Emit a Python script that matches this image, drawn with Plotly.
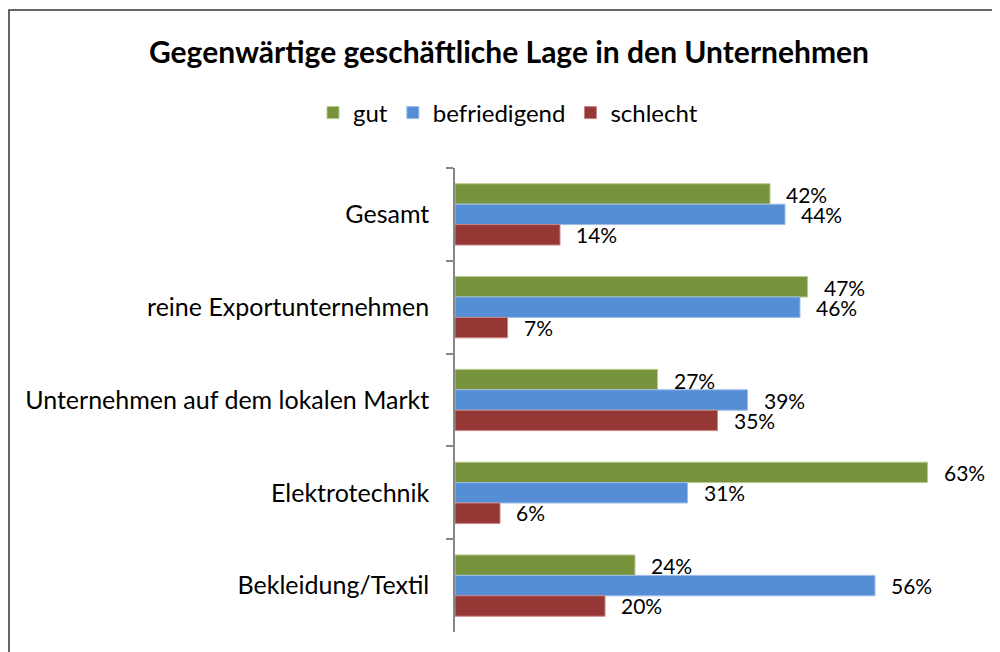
import plotly.graph_objects as go

categories = ["Gesamt", "reine Exportunternehmen", "Unternehmen auf dem lokalen Markt",
              "Elektrotechnik", "Bekleidung/Textil"]
gut = [42, 47, 27, 63, 24]
befriedigend = [44, 46, 39, 31, 56]
schlecht = [14, 7, 35, 6, 20]
series_names = ["gut", "befriedigend", "schlecht"]
colors = ["#77933C", "#558ED5", "#953735"]
borders = ["#B7CB8C", "#9DBDE8", "#C98584"]

FONT = "Lato"
W, H = 1000, 652
L, R, T, B = 447, 28, 160, 28
PW, PH = W - L - R, H - T - B

fig = go.Figure()
series = [gut, befriedigend, schlecht]
for name, vals, col, bcol in zip(series_names, series, colors, borders):
    fig.add_trace(go.Bar(
        y=categories, x=vals, name=name, orientation="h",
        marker=dict(color=col, line=dict(color=bcol, width=1)),
        hoverinfo="skip",
    ))

# value labels, positioned via data coordinates
shifts = [20, 0, -20]
for vals, ys in zip(series, shifts):
    for cat, v in zip(categories, vals):
        fig.add_annotation(x=v, y=cat, text=f"{v}%", showarrow=False,
                           xanchor="left", yanchor="middle", xshift=14, yshift=ys,
                           font=dict(family=FONT, size=21, color="#000"))

xl = (1 - L) / PW
xr = (W + 50 - L) / PW
yt = 1 + (T - 2) / PH
yb = -(B + 40) / PH
fig.update_layout(
    width=W, height=H,
    margin=dict(l=L, r=R, t=T, b=B),
    paper_bgcolor="white", plot_bgcolor="white",
    barmode="group", bargap=0.34, bargroupgap=0,
    font=dict(family=FONT, color="#000"),
    title=dict(text="<b>Gegenwärtige geschäftliche Lage in den Unternehmen</b>",
               x=501 / W, xref="container", xanchor="center",
               y=1 - 44 / H, yref="container", yanchor="middle",
               font=dict(family=FONT, size=30, color="#000")),
    legend=dict(orientation="h", x=(500 - L) / PW, xanchor="center", y=1 + (T - 105) / PH,
                yanchor="middle", font=dict(family=FONT, size=24), traceorder="normal",
                itemwidth=30),
    xaxis=dict(range=[0, 70], visible=False, showgrid=False, zeroline=False, fixedrange=True),
    yaxis=dict(autorange="reversed", showline=True, linecolor="#868686", linewidth=1.5,
               ticks="outside", tickson="boundaries", ticklen=7, tickcolor="#868686",
               tickwidth=1.5, showgrid=False, ticklabelstandoff=19,
               tickfont=dict(family=FONT, size=25, color="#000")),
    shapes=[dict(type="path", xref="paper", yref="paper",
                 path=f"M {xl},{yb} L {xl},{yt} L {xr},{yt}",
                 line=dict(color="#333", width=1.5), layer="below")],
)

fig.write_html("out.html")
